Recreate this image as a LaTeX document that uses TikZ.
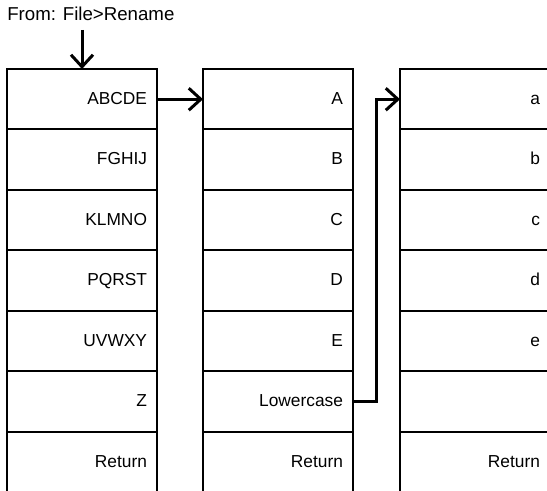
\documentclass[tikz,border=0pt]{standalone}
\usepackage{fontspec}
\setmainfont{Liberation Sans}
\usetikzlibrary{arrows.meta, positioning}
\tikzset{
    cell/.style={
        draw=black,
        line width=1.5pt,
        minimum width=112.5pt,
        minimum height=45.375pt,
        text width=97.5pt,
        inner xsep=7.5pt,
        inner ysep=0pt,
        outer sep=0pt,
        align=right,
        anchor=north west,
        text height=0.716em,
        text depth=0pt,
        font=\fontsize{13}{15}\selectfont
    },
    arrow/.style={
        -{Straight Barb[length=9pt,width=16.5pt,line width=2.25pt]},
        line width=2.25pt,
        black
    },
    caption/.style={
        inner sep=0pt,
        anchor=base west,
        font=\fontsize{14}{16}\selectfont
    }
}
\begin{document}
\begin{tikzpicture}
        \useasboundingbox (0,0) rectangle (410.25pt,368.25pt);

        % Source menu
        \node[caption] (menu) at (5.25pt,352.75pt) {From: File>Rename};

        % First column: letter groups
        \node[cell] (a1) at (5.25pt,316.5pt) {ABCDE};
        \node[cell, below=0pt of a1] (a2) {FGHIJ};
        \node[cell, below=0pt of a2] (a3) {KLMNO};
        \node[cell, below=0pt of a3] (a4) {PQRST};
        \node[cell, below=0pt of a4] (a5) {UVWXY};
        \node[cell, below=0pt of a5] (a6) {Z};
        \node[cell, below=0pt of a6] (a7) {Return};

        % Second column: upper case letters
        \node[cell] (b1) at (152.25pt,316.5pt) {A};
        \node[cell, below=0pt of b1] (b2) {B};
        \node[cell, below=0pt of b2] (b3) {C};
        \node[cell, below=0pt of b3] (b4) {D};
        \node[cell, below=0pt of b4] (b5) {E};
        \node[cell, below=0pt of b5] (b6) {Lowercase};
        \node[cell, below=0pt of b6] (b7) {Return};

        % Third column: lower case letters
        \node[cell] (c1) at (300pt,316.5pt) {a};
        \node[cell, below=0pt of c1] (c2) {b};
        \node[cell, below=0pt of c2] (c3) {c};
        \node[cell, below=0pt of c3] (c4) {d};
        \node[cell, below=0pt of c4] (c5) {e};
        \node[cell, below=0pt of c5] (c6) {};
        \node[cell, below=0pt of c6] (c7) {Return};

        % Connectors
        \coordinate (entry) at ([yshift=29.25pt]a1.north);
        \draw[arrow] (entry) -- (a1.north);
        \draw[arrow] (a1.east) -- (b1.west);
        \draw[arrow] (b6.east) -- ++(17.25pt,0) |- (c1.west);
    \end{tikzpicture}
\end{document}
